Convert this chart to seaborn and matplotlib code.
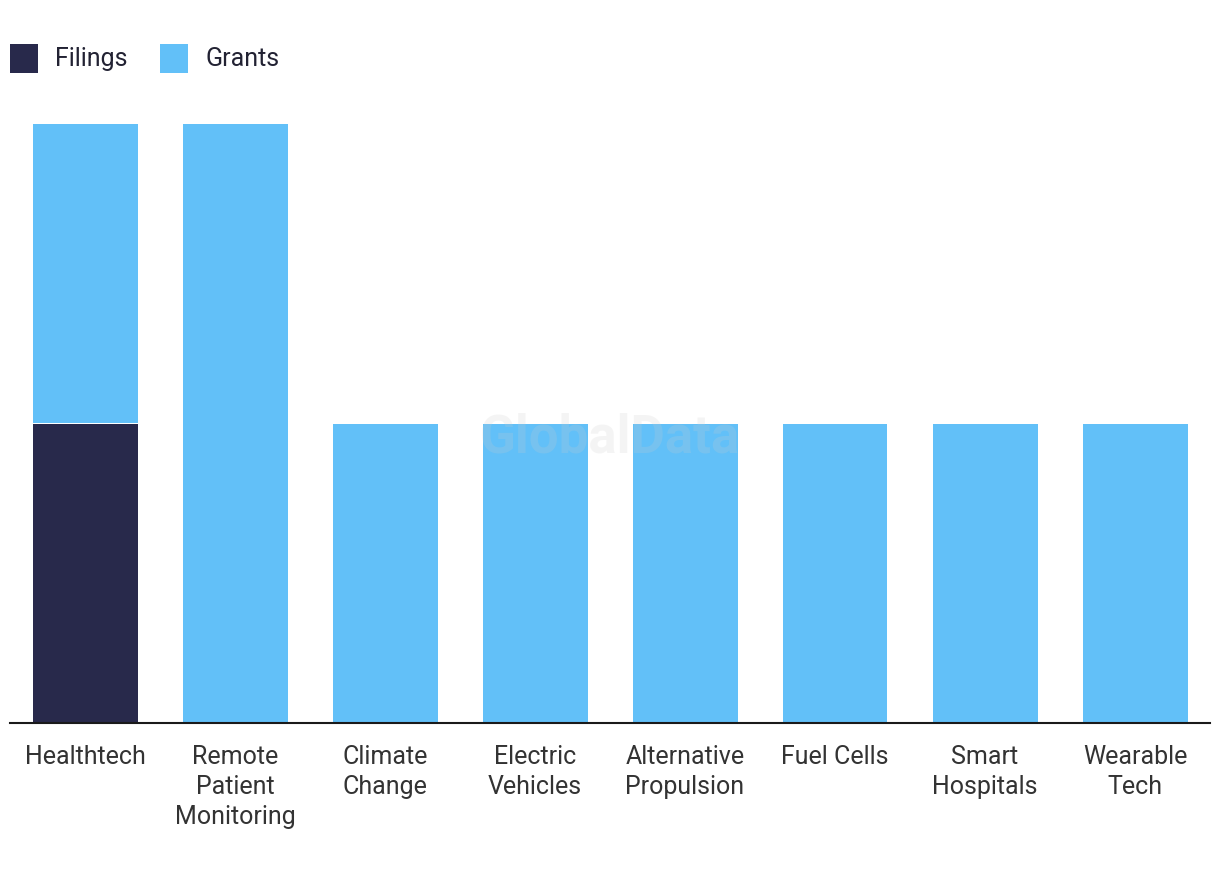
import matplotlib
matplotlib.use("Agg")
import matplotlib.pyplot as plt
import seaborn as sns
import pandas as pd

categories = ["Healthtech", "Remote\nPatient\nMonitoring", "Climate\nChange", "Electric\nVehicles",
              "Alternative\nPropulsion", "Fuel Cells", "Smart\nHospitals", "Wearable\nTech"]
filings = [1, 0, 0, 0, 0, 0, 0, 0]
grants = [1, 2, 1, 1, 1, 1, 1, 1]

df = pd.DataFrame({"category": categories, "filings": filings, "grants": grants})

sns.set_style("white")
plt.rcParams["font.family"] = ["Roboto", "DejaVu Sans"]

navy = "#28294b"
blue = "#62c0f8"

fig = plt.figure(figsize=(12.2, 8.8), dpi=100)
ax = fig.add_axes([10 / 1220, 1 - 723 / 880, 1200 / 1220, 599 / 880])

sns.barplot(data=df, x="category", y="filings", color=navy, width=0.7, saturation=1, linewidth=0,
            ax=ax, label="Filings")
sns.barplot(data=df, x="category", y="grants", bottom=df["filings"], color=blue, width=0.7, saturation=1,
            linewidth=0, ax=ax, label="Grants")

ax.set_xlim(-0.5, len(categories) - 0.5)
ax.set_ylim(0, 2)
ax.set_xlabel("")
ax.set_ylabel("")
ax.set_yticks([])
for side in ["top", "right", "left"]:
    ax.spines[side].set_visible(False)
ax.spines["bottom"].set_color("#1a1a1a")
ax.spines["bottom"].set_linewidth(1.5)
ax.tick_params(axis="x", length=0, pad=16, labelsize=18, labelcolor="#333333")
for lbl in ax.get_xticklabels():
    lbl.set_linespacing(1.3)

# faint watermark
ax.text(3.5, 0.95, "GlobalData", ha="center", va="center", fontsize=38, fontweight="bold",
        color="#cccccc", alpha=0.2, zorder=5)

handles, labels = ax.get_legend_handles_labels()
if ax.get_legend():
    ax.get_legend().remove()
fig.legend(handles, labels, loc="upper left", bbox_to_anchor=(0.0033, 0.9575), ncol=2, frameon=False,
           fontsize=18, handlelength=1.1, handleheight=1.4, handletextpad=0.7, columnspacing=1.3,
           labelcolor="#222233", borderaxespad=0.0, borderpad=0.25)

fig.savefig("out.png", dpi=100, facecolor="white")
